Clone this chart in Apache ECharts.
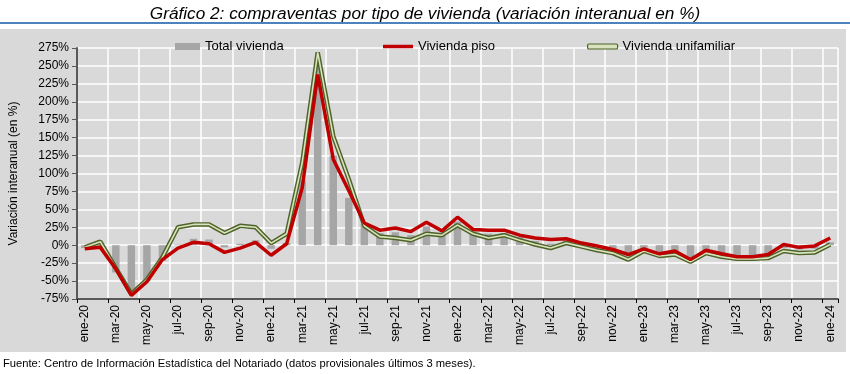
<!DOCTYPE html>
<html>
<head>
<meta charset="utf-8">
<script src="https://cdn.jsdelivr.net/npm/echarts@6/dist/echarts.min.js"></script>
<style>
html,body{margin:0;padding:0;background:#fff;}
#chart{width:850px;height:374px;}
</style>
</head>
<body>
<div id="chart"></div>
<script>
var categories = ['ene-20','feb-20','mar-20','abr-20','may-20','jun-20','jul-20','ago-20','sep-20','oct-20','nov-20','dic-20',
  'ene-21','feb-21','mar-21','abr-21','may-21','jun-21','jul-21','ago-21','sep-21','oct-21','nov-21','dic-21',
  'ene-22','feb-22','mar-22','abr-22','may-22','jun-22','jul-22','ago-22','sep-22','oct-22','nov-22','dic-22',
  'ene-23','feb-23','mar-23','abr-23','may-23','jun-23','jul-23','ago-23','sep-23','oct-23','nov-23','dic-23',
  'ene-24'];
var totalVivienda = [-4,-5,-38,-64,-50,-22,1,9,8,-3,2,7,
  -5,3,90,255,125,66,30,17,18,14,26,17,
  33,19,16,17,11,6,2,6,1,-3,-7,-12,
  -5,-12,-9,-19,-8,-14,-17,-17,-15,-4,-6,-5,
  4];
var viviendaPiso = [-5,-3,-33,-70,-51,-20,-4,4,2,-10,-4,4,
  -14,2,80,238,120,76,31,21,24,19,32,20,
  39,22,21,21,14,10,8,9,3,-1,-6,-13,
  -5,-12,-8,-20,-7,-12,-16,-16,-13,1,-3,-1,
  10];
var viviendaUnifamiliar = [-3,5,-32,-68,-48,-17,25,29,29,17,27,25,
  3,16,115,269,152,92,27,12,10,7,16,14,
  28,16,10,14,7,1,-4,3,-2,-7,-11,-20,
  -8,-15,-13,-23,-11,-16,-19,-19,-18,-8,-11,-10,
  1];
var yMin = -75, yMax = 275, yStep = 25;

var chart = echarts.init(document.getElementById('chart'), null, {renderer:'canvas'});
var baseFont = 'Liberation Sans';
var legendText = {fontFamily: baseFont, fontSize: 13, color: '#000'};
chart.setOption({
  animation: false,
  backgroundColor: '#ffffff',
  title: {
    text: 'Gráfico 2: compraventas por tipo de vivienda (variación interanual en %)',
    left: 'center', top: 1,
    textStyle: {fontFamily: baseFont, fontStyle: 'italic', fontWeight: 'normal', fontSize: 17.2, color: '#000'}
  },
  graphic: [
    {type: 'rect', z: -10, shape: {x: 0, y: 22, width: 850, height: 2}, style: {fill: '#4f81bd'}},
    {type: 'rect', z: -10, shape: {x: 0, y: 29, width: 846, height: 323}, style: {fill: '#d9d9d9'}},
    {type: 'text', left: 3, top: 358, style: {text: 'Fuente: Centro de Información Estadística del Notariado (datos provisionales últimos 3 meses).', fontFamily: baseFont, fontSize: 11.2, fill: '#000'}}
  ],
  legend: [
    {left: 170, top: 35, itemWidth: 25, itemHeight: 7, itemGap: 0, textStyle: legendText,
     data: [{name: 'Total vivienda', icon: 'rect'}]},
    {left: 378, top: 35, itemWidth: 30, itemHeight: 3.5, itemGap: 0, textStyle: legendText,
     data: [{name: 'Vivienda piso', icon: 'rect'}]},
    {left: 582, top: 35, itemWidth: 30, itemHeight: 5, itemGap: 0, textStyle: legendText,
     data: [{name: 'Vivienda unifamiliar', icon: 'roundRect', itemStyle: {color: '#d7e4bd', borderColor: '#4f6228', borderWidth: 1.2}}]}
  ],
  grid: {left: 70, right: 12, top: 48, bottom: 75, containLabel: false},
  xAxis: [
    {
      type: 'category', data: categories, boundaryGap: true, position: 'bottom',
      axisLine: {show: false}, axisTick: {show: false},
      axisLabel: {interval: 1, rotate: 90, margin: 6, fontFamily: baseFont, fontSize: 12, color: '#000'},
      splitLine: {show: true, interval: 1, lineStyle: {color: '#ffffff', width: 1.5}}
    },
    {
      type: 'category', data: categories, boundaryGap: true, position: 'bottom',
      axisLine: {show: true, onZero: true, lineStyle: {color: '#595959', width: 2}},
      axisTick: {show: true, interval: 1, length: 4, inside: false, lineStyle: {color: '#000', width: 1}},
      axisLabel: {show: false}, splitLine: {show: false}
    }
  ],
  yAxis: {
    type: 'value', min: yMin, max: yMax, interval: yStep,
    name: 'Variación interanual (en %)', nameLocation: 'middle', nameGap: 57,
    nameTextStyle: {fontFamily: baseFont, fontSize: 12, color: '#000'},
    axisLine: {show: true, lineStyle: {color: '#595959', width: 2}},
    axisTick: {show: true, length: 5, lineStyle: {color: '#595959', width: 1}},
    axisLabel: {formatter: '{value}%', fontFamily: baseFont, fontSize: 12, color: '#000', margin: 8},
    splitLine: {show: true, lineStyle: {color: '#ffffff', width: 1.5}}
  },
  series: [
    {name: 'Total vivienda', type: 'bar', data: totalVivienda, barWidth: '48%',
     itemStyle: {color: '#a6a6a6'}, z: 1},
    {name: 'Vivienda unifamiliar', type: 'line', data: viviendaUnifamiliar, showSymbol: false, symbol: 'none',
     lineStyle: {color: '#4f6228', width: 4.5}, itemStyle: {color: '#4f6228'}, z: 2},
    {name: '_uniInner', type: 'line', data: viviendaUnifamiliar, showSymbol: false, symbol: 'none',
     lineStyle: {color: '#d7e4bd', width: 1.6}, itemStyle: {color: '#d7e4bd'}, z: 3},
    {name: 'Vivienda piso', type: 'line', data: viviendaPiso, showSymbol: false, symbol: 'none',
     lineStyle: {color: '#c00000', width: 3.5}, itemStyle: {color: '#c00000'}, z: 4}
  ]
});
</script>
</body>
</html>
